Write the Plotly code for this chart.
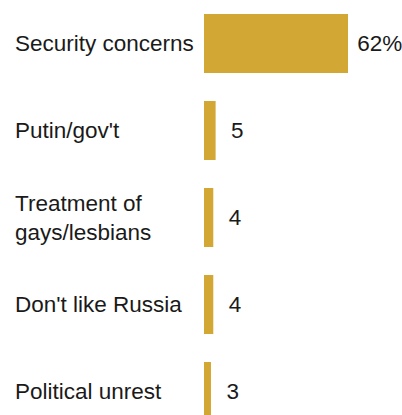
import plotly.graph_objects as go

categories = ["Security concerns", "Putin/gov't", "Treatment of<br>gays/lesbians", "Don't like Russia", "Political unrest"]
values = [62, 5, 4, 4, 3]
value_labels = ["62%", "5", "4", "4", "3"]

BAR_COLOR = "#D3A733"
FONT = "Liberation Sans, Arial, sans-serif"
TEXT_COLOR = "#1a1a1a"
FS = 22.5

NB = "\u00a0"
display_text = [(NB if "%" in lbl else NB * 2) + lbl for lbl in value_labels]

fig = go.Figure()
fig.add_trace(go.Bar(
    x=values, y=categories, orientation="h",
    marker=dict(color=BAR_COLOR, line=dict(width=0)),
    text=display_text, textposition="outside",
    textfont=dict(family=FONT, size=FS, color=TEXT_COLOR),
    cliponaxis=False, hoverinfo="skip",
))

for cat in categories:
    fig.add_annotation(
        x=0, xref="paper", y=cat, yref="y", xshift=-191,
        text=cat, showarrow=False, xanchor="left", align="left",
        font=dict(family=FONT, size=FS, color=TEXT_COLOR),
    )

fig.update_layout(
    width=402, height=415,
    margin=dict(l=204, r=0, t=0, b=0),
    paper_bgcolor="white", plot_bgcolor="white",
    bargap=0.322, showlegend=False,
    uniformtext=dict(mode=False),
    xaxis=dict(range=[0, 85.25], visible=False, fixedrange=True),
    yaxis=dict(range=[4.27, -0.5], showticklabels=False, showgrid=False,
               zeroline=False, showline=False, ticks="", fixedrange=True),
)

fig.write_html("out.html", config={"displayModeBar": False})
